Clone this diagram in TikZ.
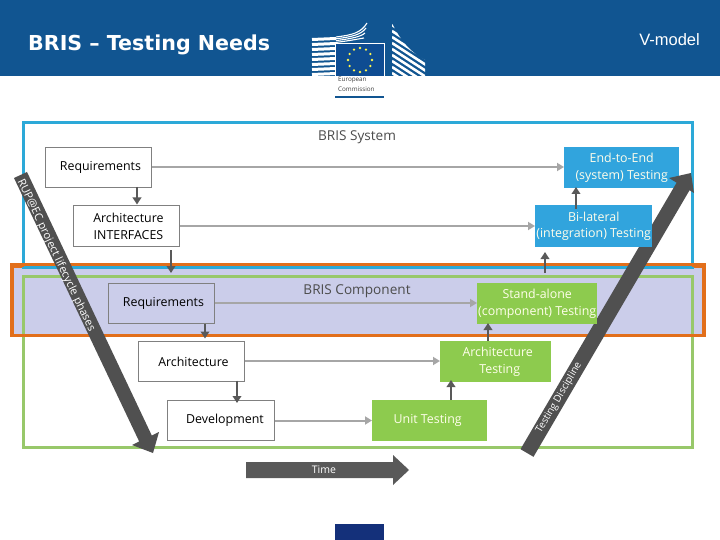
\documentclass[tikz,border=0pt]{standalone}
\usepackage{fontspec}
\setmainfont{Open Sans}
\newfontfamily\titlefont{DejaVu Sans}
\newfontfamily\vfont{Liberation Sans}
\usetikzlibrary{arrows.meta}
\definecolor{hdr}{HTML}{115591}
\definecolor{dgrey}{HTML}{595959}
\definecolor{bandgrey}{HTML}{505050}
\definecolor{lgrey}{HTML}{A6A6A6}
\definecolor{bframe}{HTML}{2CA9D8}
\definecolor{oframe}{HTML}{E26F1B}
\definecolor{gframe}{HTML}{98C86A}
\definecolor{lav}{HTML}{CBCDEA}
\definecolor{bbox}{HTML}{31A4DD}
\definecolor{gbox}{HTML}{8DCB4E}
\definecolor{flagb}{HTML}{0E4C92}
\definecolor{navy}{HTML}{14307A}
\newcommand{\padl}{\hspace*{4pt}}
\tikzset{
  x=1pt,y=-1pt,
  plainbox/.style={draw=gray,line width=.9pt,anchor=north west,minimum width=#1,inner sep=0pt,align=center,font=\fontsize{12.4}{17}\selectfont},
  fillbox/.style={anchor=north west,minimum width=#1,inner sep=0pt,align=center,text=white!92!yellow,font=\fontsize{12.4}{16.5}\selectfont},
  flowgrey/.style={draw=lgrey,line width=2pt,-{Triangle[length=7pt,width=8pt]}},
  flowdark/.style={draw=dgrey,line width=2.2pt,-{Triangle[length=7pt,width=8.5pt]}},
  bandtext/.style={text=white,inner sep=0pt,font=\fontsize{11.1}{13}\selectfont},
  framelabel/.style={text=black!70,inner sep=0pt,font=\fontsize{13.6}{16}\selectfont},
}
\begin{document}
\begin{tikzpicture}
\useasboundingbox (0,0) rectangle (720,540);
\fill[white] (0,0) rectangle (720,540);
\fill[hdr] (0,0) rectangle (720,76);
\node[anchor=west,text=white,font=\titlefont\bfseries\fontsize{20.6}{22}\selectfont,inner sep=0pt] (title) at (28,45) {BRIS – Testing Needs};
\node[anchor=east,text=white,font=\vfont\fontsize{16.5}{18}\selectfont,inner sep=0pt] (vm) at (700,40) {V-model};
% logo: left building
\foreach \i in {0,...,7}{
  \draw[white,line width=3pt] (312,{39.5+\i*5}) -- (336,{38.5+\i*5});
}
\foreach \k in {0,...,3}{
  \draw[white,line width=1.1pt] (336,{37+\k*1.8}) .. controls (352,{35+\k*1.8}) and (361,{33+\k*1.8}) .. ({367-\k*1},{23+\k*5});
}
% logo: right building
\begin{scope}
\clip (392,23) .. controls (400,40) and (410,52) .. (425,60) -- (425,76) -- (392,76) -- cycle;
\foreach \i in {-4,...,8}{
  \draw[white,line width=2.6pt] (392,{25+\i*6}) -- (426,{47+\i*6});
}
\end{scope}
% logo: flag
\fill[flagb] (335,43) rectangle (384,76);
\draw[white,line width=.7pt] (335,76) -- (335,43) -- (384,43) -- (384,76);
\foreach \a in {0,30,...,330}{
  \fill[yellow!70!white] ({360+12*sin(\a)},{60-12*cos(\a)}) circle (1.3pt);
}
\node[anchor=north west,inner sep=0pt,align=left,text=black!75,font=\fontsize{6.3}{10}\selectfont] (ec) at (338,76.5) {European\\Commission};
\fill[hdr] (335,96) rectangle (384,98.2);
% frames
\draw[oframe,line width=3.7pt,fill=lav] (12,266) rectangle (704,335.5);
\draw[bframe,line width=3pt] (23.5,123) rectangle (692,267);
\draw[gframe,line width=3pt] (23.5,276) rectangle (692.5,447.5);
\draw[oframe,line width=3.5pt] (10,265) -- (706,265);
\draw[oframe,line width=3.7pt] (10,335.5) -- (706,335.5);
\draw[bframe,line width=2.5pt] (23.5,267.5) -- (692,267.5);
\node[framelabel] (sys) at (357,137) {BRIS System};
\node[framelabel] (comp) at (357,291) {BRIS Component};
% end-to-end box lies under the testing arrow, the others over it
\node[fillbox=115pt,minimum height=41pt,fill=bbox] (ee) at (564,147) {End-to-End\\(system) Testing};
\fill[bandgrey] (520.5,449.2) -- (533.5,456.8) -- (689.5,190.3) -- (694,193) -- (691,173) -- (669,178) -- (676.6,182.7) -- cycle;
% boxes
\node[plainbox=106pt,minimum height=40pt,fill=white] (r1) at (45,147) {\padl Requirements};
\node[plainbox=106pt,minimum height=41pt,fill=white] (ai) at (73,205) {\padl Architecture\\\padl INTERFACES};
\node[plainbox=106pt,minimum height=40pt] (r2) at (108,283) {\padl Requirements};
\node[plainbox=106pt,minimum height=40pt,fill=white] (ar) at (138,341) {\padl Architecture};
\node[plainbox=107pt,minimum height=40pt,fill=white] (de) at (167,400) {\padl\padl Development};
\node[fillbox=115pt,minimum height=41pt,fill=gbox] (ut) at (372,400) {Unit Testing\padl};
\node[fillbox=111pt,minimum height=41pt,fill=gbox] (at) at (440,341) {\padl Architecture\\\padl\padl Testing};
\node[fillbox=120pt,minimum height=41pt,fill=gbox] (sa) at (477,283) {Stand-alone\\(component) Testing};
\node[fillbox=117pt,minimum height=42pt,fill=bbox] (bi) at (535,205) {Bi-lateral\\(integration) Testing};
% grey flows
\draw[flowgrey] (r1.east|-0,167) -- (ee.west|-0,167);
\draw[flowgrey] (ai.east|-0,226) -- (bi.west|-0,226);
\draw[flowgrey] (r2.east|-0,303) -- (sa.west|-0,303);
\draw[flowgrey] (ar.east|-0,361) -- (at.west|-0,361);
\draw[flowgrey] (de.east|-0,420.5) -- (ut.west|-0,420.5);
% dark flows
\coordinate (d1) at (137,187); \coordinate (d1e) at (137,204.5);
\coordinate (d2) at (171,250); \coordinate (d2e) at (171,273);
\coordinate (d3) at (205,323.5); \coordinate (d3e) at (205,338.5);
\coordinate (d4) at (237,380.5); \coordinate (d4e) at (237,403);
\draw[flowdark] (d1) -- (d1e);
\draw[flowdark] (d2) -- (d2e);
\draw[flowdark] (d3) -- (d3e);
\draw[flowdark] (d4) -- (d4e);
\coordinate (u1) at (451,400); \coordinate (u1e) at (451,380);
\coordinate (u2) at (488,341); \coordinate (u2e) at (488,323);
\coordinate (u3) at (545,273); \coordinate (u3e) at (545,252);
\coordinate (u4) at (576,209); \coordinate (u4e) at (576,187);
\draw[flowdark] (u1) -- (u1e);
\draw[flowdark] (u2) -- (u2e);
\draw[flowdark] (u3) -- (u3e);
\draw[flowdark] (u4) -- (u4e);
% left diagonal
\fill[bandgrey] (14,178) -- (27,172) -- (151.8,435.5) -- (159,432) -- (153,453) -- (132,445) -- (139.2,441.5) -- cycle;
\node[bandtext,rotate=-64.5] (rup) at (56,255.5) {RUP@EC project lifecycle phases};
\node[bandtext,rotate=59.7,font=\fontsize{10}{12}\selectfont] (td) at (559,398) {Testing Discipline};
% time
\fill[dgrey] (246,462) -- (393,462) -- (393,455) -- (409,470) -- (393,485) -- (393,478) -- (246,478) -- cycle;
\node[text=white,inner sep=0pt,font=\fontsize{10.5}{12}\selectfont] (time) at (324,470) {Time};
\fill[navy] (335,524) rectangle (384,540);
\end{tikzpicture}
\end{document}
